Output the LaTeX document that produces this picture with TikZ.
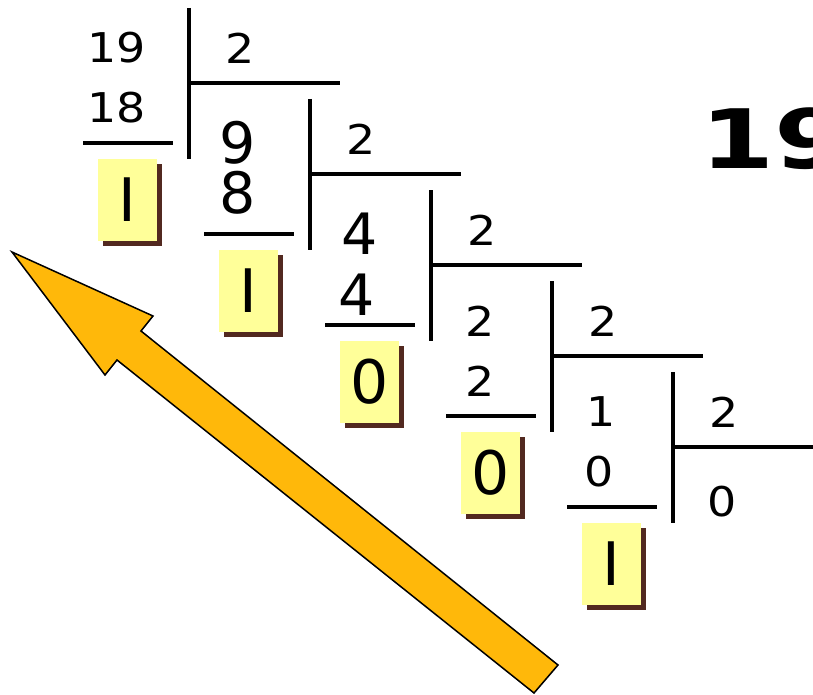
\documentclass[tikz,border=0pt]{standalone}
\usepackage{fontspec}
\setmainfont{DejaVu Sans}
\newfontfamily\cifras[FakeStretch=1.12]{DejaVu Sans}
\newfontfamily\titulofont[FakeStretch=1.3]{DejaVu Sans Bold}
\usetikzlibrary{shadows}
\definecolor{amarillo}{RGB}{255,255,153}
\definecolor{sombra}{RGB}{82,41,32}
\definecolor{naranja}{RGB}{255,184,10}

\begin{document}
\begin{tikzpicture}[x=1pt,y=-1pt,
  chico/.style={inner sep=0pt, font=\cifras\fontsize{41}{41}\selectfont},
  grande/.style={inner sep=0pt, font=\fontsize{57}{57}\selectfont},
  resto/.style={fill=amarillo, minimum width=59pt, minimum height=82pt, inner sep=0pt,
    font=\fontsize{60}{60}\selectfont,
    general shadow={fill=sombra, shadow xshift=5pt, shadow yshift=-5pt}}]
\useasboundingbox (0,0) rectangle (813,695);
\clip (0,0) rectangle (813,695);
% Figura: divisiones sucesivas de 19 entre 2
\foreach \k in {0,...,4} {
  \draw[line width=3.5pt] ({189+121*\k},{8+91*\k}) -- ++(0,151);
  \draw[line width=3.2pt] ({189+121*\k},{83+91*\k}) -- ++(151,0);
  \draw[line width=3.2pt] ({83+121*\k},{143+91*\k}) -- ++(90,0);
}
% 19 : 2
\node[chico] (div0) at (117,48) {19};
\node[chico] (prod0) at (117,108) {18};
\node[chico] (dos0) at (240,48) {2};
\node[resto] (r0) at (127.5,200) {I};
% 9 : 2
\node[grande] (div1) at (238,143) {9};
\node[grande] (prod1) at (238,193) {8};
\node[chico] (dos1) at (361,139) {2};
\node[resto] (r1) at (248.5,291) {I};
% 4 : 2
\node[grande] (div2) at (360,234) {4};
\node[grande] (prod2) at (357,295) {4};
\node[chico] (dos2) at (482,230) {2};
\node[resto] (r2) at (369.5,382) {0};
% 2 : 2
\node[chico] (div3) at (480,321) {2};
\node[chico] (prod3) at (480,381) {2};
\node[chico] (dos3) at (603,321) {2};
\node[resto] (r3) at (490.5,473) {0};
% 1 : 2
\node[chico] (div4) at (601,412) {1};
\node[chico] (prod4) at (599,472) {0};
\node[chico] (dos4) at (724,412) {2};
\node[chico] (coc4) at (722,502) {0};
\node[resto] (r4) at (611.5,564) {I};
% Titulo (cortado a la derecha)
\node[anchor=base west, inner sep=0pt, font=\titulofont\fontsize{82}{82}\selectfont] (titulo) at (700,168) {19};
% Flecha: leer los restos de abajo hacia arriba
\draw[line width=1.5pt, fill=naranja, line join=miter] (12,252) -- (153,316) -- (141,331)
  -- (558,665) -- (534,693) -- (117,360) -- (105,375) -- cycle;
\end{tikzpicture}
\end{document}
